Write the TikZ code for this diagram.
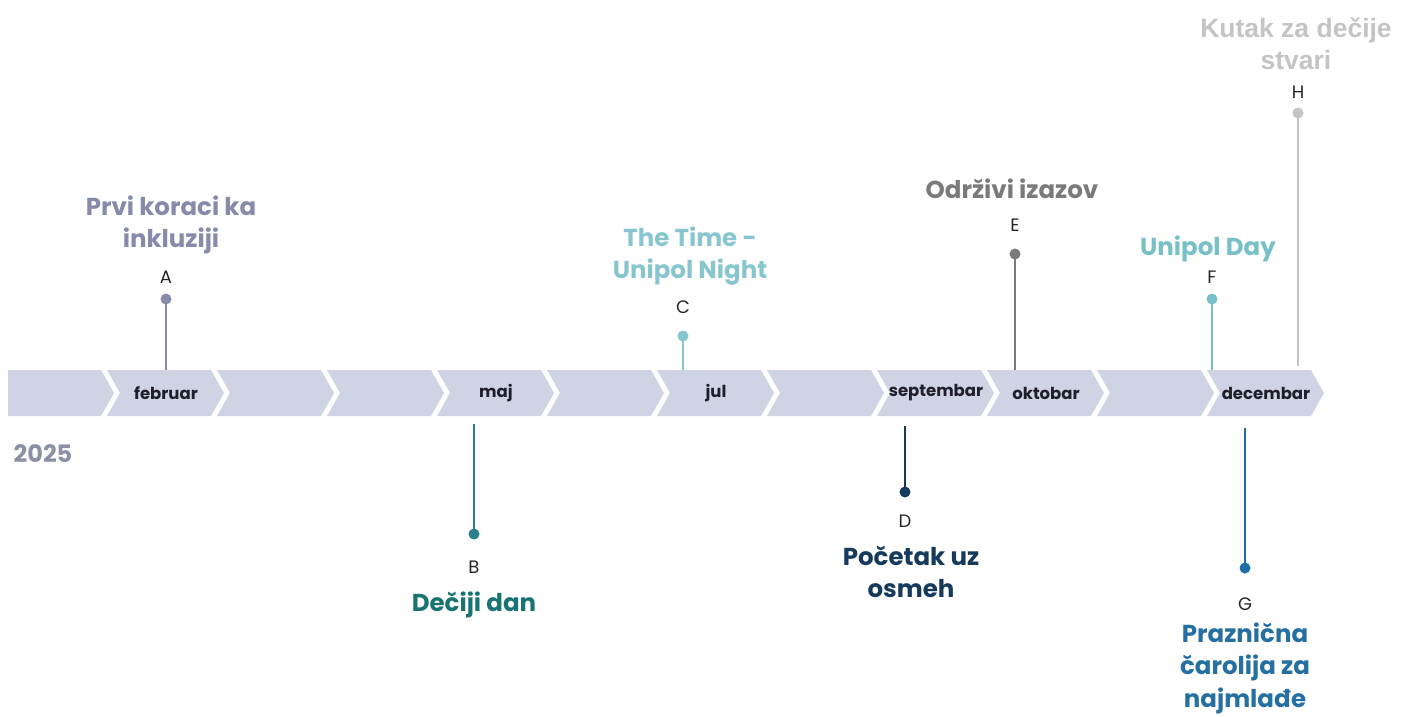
\documentclass[tikz,border=0pt]{standalone}
\usepackage{fontspec}
\setmainfont{Poppins}
\newfontfamily\arialf{Liberation Sans}
\definecolor{barc}{HTML}{CFD4E4}
\definecolor{monthc}{HTML}{1E1F2A}
\definecolor{ca}{HTML}{868BAB}
\definecolor{cb}{HTML}{2A7F8C}
\definecolor{cbt}{HTML}{1A7373}
\definecolor{cc}{HTML}{88C6CF}
\definecolor{cd}{HTML}{163A5C}
\definecolor{ce}{HTML}{7A7A7A}
\definecolor{cf}{HTML}{78C0C8}
\definecolor{cg}{HTML}{1E6FA8}
\definecolor{cgt}{HTML}{2570A0}
\definecolor{ch}{HTML}{C4C4C4}
\definecolor{yearc}{HTML}{8C90A4}
\begin{document}
\begin{tikzpicture}[x=1pt,y=-1pt,
  seg/.style={fill=barc,draw=none},
  month/.style={font=\bfseries\fontsize{16.5}{19}\selectfont,text=monthc,inner sep=0pt},
  letter/.style={font=\fontsize{18}{21}\selectfont,text=black!85,inner sep=0pt},
  title/.style={font=\bfseries\fontsize{24.5}{32.5}\selectfont,align=center,inner sep=0pt},
  dot/.style={circle,fill=#1,minimum size=11pt,inner sep=0pt},
  pin/.style={draw=#1,line width=2.5pt}]
\useasboundingbox (0,0) rectangle (1408,716);
% chevron bar
\path[seg] (8,370) -- (101,370) -- (114,393) -- (101,416) -- (8,416) -- cycle;
\foreach \i in {1,...,11}{
  \pgfmathsetmacro{\xl}{-3+110*\i}
  \pgfmathsetmacro{\xr}{101+110*\i}
  \path[seg] (\xl,370) -- (\xr,370) -- (\xr+13,393) -- (\xr,416) -- (\xl,416) -- (\xl+13,393) -- cycle;
}
% months
\node[month] (m2) at (166,393) {februar};
\node[month] (m5) at (496,393) {maj};
\node[month] (m7) at (716,393) {jul};
\node[month] (m9) at (936,393) {septembar};
\node[month] (m10) at (1046,393) {oktobar};
\node[month] (m12) at (1266,393) {decembar};
% year
\node[font=\bfseries\fontsize{24}{27}\selectfont,text=yearc,inner sep=0pt] (year) at (43,454) {2025};
% A
\coordinate (ea) at (166,370);
\node[dot=ca] (da) at (166,299) {};
\draw[pin=ca] (da.center) -- (ea);
\node[letter] (la) at (166,277) {A};
\node[title,text=ca] (ta) at (171,225) {Prvi koraci ka\\inkluziji};
% B
\coordinate (eb) at (474,424);
\node[dot=cb] (db) at (474,534) {};
\draw[pin=cb] (eb) -- (db.center);
\node[letter] (lb) at (474,567) {B};
\node[title,text=cbt] (tb) at (474,605) {Dečiji dan};
% C
\coordinate (ec) at (683,370);
\node[dot=cc] (dc) at (683,336) {};
\draw[pin=cc] (dc.center) -- (ec);
\node[letter] (lc) at (683,307) {C};
\node[title,text=cc] (tc) at (690,256) {The Time -\\Unipol Night};
% D
\coordinate (ed) at (905,426);
\node[dot=cd] (dd) at (905,492) {};
\draw[pin=cd] (ed) -- (dd.center);
\node[letter] (ld) at (905,521) {D};
\node[title,text=cd] (td) at (911,572) {Početak uz\\osmeh};
% E
\coordinate (ee) at (1015,370);
\node[dot=ce] (de) at (1015,254) {};
\draw[pin=ce] (de.center) -- (ee);
\node[letter] (le) at (1015,225) {E};
\node[title,text=ce] (te) at (1012,189) {Održivi izazov};
% F
\coordinate (ef) at (1212,370);
\node[dot=cf] (df) at (1212,299) {};
\draw[pin=cf] (df.center) -- (ef);
\node[letter] (lf) at (1212,277) {F};
\node[title,text=cf] (tf) at (1208,249) {Unipol Day};
% G
\coordinate (eg) at (1245,428);
\node[dot=cg] (dg) at (1245,568) {};
\draw[pin=cg] (eg) -- (dg.center);
\node[letter] (lg) at (1245,604) {G};
\node[title,text=cgt] (tg) at (1245,668) {Praznična\\čarolija za\\najmlađe};
% H
\coordinate (eh) at (1298,366);
\node[dot=ch] (dh) at (1298,113) {};
\draw[pin=ch] (dh.center) -- (eh);
\node[letter] (lh) at (1298,92) {H};
\node[title,font=\arialf\bfseries\fontsize{26.5}{32}\selectfont,text=ch] (th) at (1296,44) {Kutak za dečije\\stvari};
\end{tikzpicture}
\end{document}
